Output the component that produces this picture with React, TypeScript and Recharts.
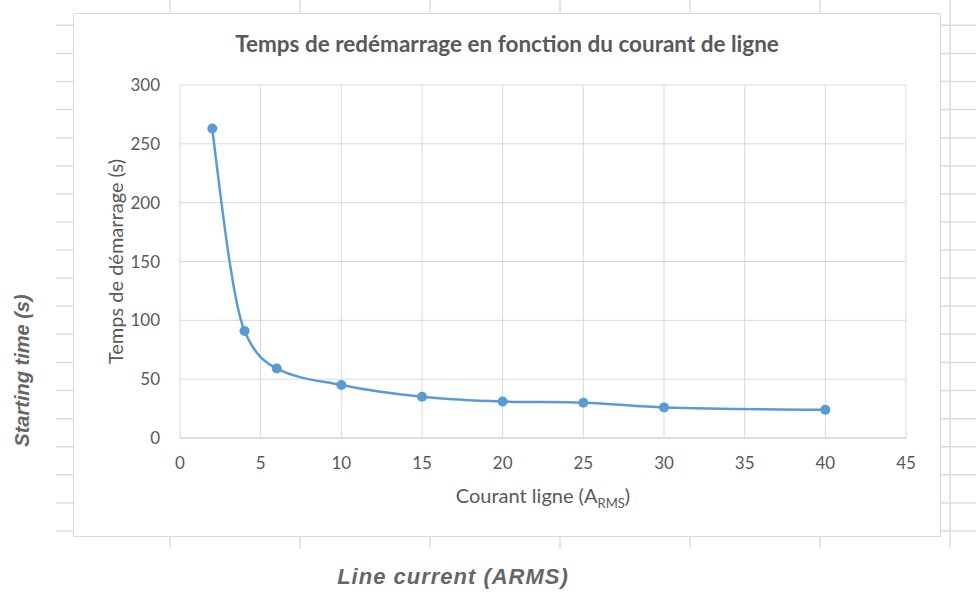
import React from "react";
import { LineChart, Line, XAxis, YAxis, CartesianGrid } from "recharts";

// line current (A RMS)
const currents = [2, 4, 6, 10, 15, 20, 25, 30, 40];
// restart time (s)
const restartTimes = [263, 91, 59, 45, 35, 31, 30, 26, 24];

const xTicks = [0, 5, 10, 15, 20, 25, 30, 35, 40, 45];
const yTicks = [0, 50, 100, 150, 200, 250, 300];

// grid of the chart sitting behind the pasted Excel picture
const bgXTicks = [1, 2, 3, 4, 5, 6, 7];
const bgYTicks = [0, 1, 2, 3, 4, 5, 6, 7, 8, 9, 10, 11, 12, 13, 14, 15, 16, 17, 18];

const data = currents.map((c, i) => ({ current: c, time: restartTimes[i] }));
const bgData = bgXTicks.map((t) => ({ slot: t }));

const textGray = "#595959";
const gridGray = "#d9d9d9";
const blue = "#5b9bd5";
const font = "Lato, 'Open Sans', sans-serif";

const XTitle = (props: any) => {
  const { viewBox } = props;
  const cx = viewBox.x + viewBox.width / 2;
  return (
    <text x={cx} y={viewBox.y + 65} textAnchor="middle" fill={textGray} fontSize={20} fontFamily={font}>
      Courant ligne (A
      <tspan fontSize={13} dy={5}>RMS</tspan>
      <tspan dy={-5}>)</tspan>
    </text>
  );
};

const YTitle = (props: any) => {
  const { viewBox } = props;
  const cy = viewBox.y + viewBox.height / 2;
  const x = 41;
  return (
    <text
      x={x}
      y={cy}
      transform={`rotate(-90, ${x}, ${cy})`}
      textAnchor="middle"
      dominantBaseline="central"
      fill={textGray}
      fontSize={20}
      fontFamily={font}
    >
      Temps de démarrage (s)
    </text>
  );
};

const App = () => {
  return (
    <div style={{ position: "absolute", left: 0, top: 0, width: 976, height: 592, background: "#fff", overflow: "hidden" }}>
      {/* background chart */}
      <div style={{ position: "absolute", left: 0, top: 0 }}>
        <LineChart width={976} height={549} data={bgData} margin={{ top: 0, right: 0, left: 56, bottom: 0 }}>
          <CartesianGrid stroke="#dcdcdc" strokeWidth={1.5} syncWithTicks />
          <XAxis type="number" dataKey="slot" hide allowDataOverflow domain={[0.123, 7.2]} ticks={bgXTicks} />
          <YAxis type="number" hide allowDataOverflow domain={[-0.64, 18.9]} ticks={bgYTicks} />
        </LineChart>
      </div>
      <div
        style={{
          position: "absolute",
          left: 0,
          top: 300,
          width: 44,
          height: 140,
          display: "flex",
          alignItems: "center",
          justifyContent: "center",
        }}
      >
        <div
          style={{
            transform: "rotate(-90deg)",
            whiteSpace: "nowrap",
            fontFamily: "'Liberation Sans', Arial, sans-serif",
            fontStyle: "italic",
            fontWeight: "bold",
            fontSize: 20,
            color: "#666",
          }}
        >
          Starting time (s)
        </div>
      </div>
      <div
        style={{
          position: "absolute",
          left: 253,
          top: 564,
          width: 400,
          textAlign: "center",
          fontFamily: "'Liberation Sans', Arial, sans-serif",
          fontStyle: "italic",
          fontWeight: "bold",
          fontSize: 22,
          letterSpacing: 1,
          color: "#666",
        }}
      >
        Line current (ARMS)
      </div>

      {/* Excel chart */}
      <div
        style={{
          position: "absolute",
          left: 73,
          top: 13,
          width: 868,
          height: 524,
          boxSizing: "border-box",
          border: `1px solid ${gridGray}`,
          background: "#fff",
        }}
      >
        <div
          style={{
            position: "absolute",
            left: 0,
            top: 17,
            width: 866,
            textAlign: "center",
            fontFamily: font,
            fontWeight: "bold",
            fontSize: 22.5,
            lineHeight: "26px",
            color: textGray,
          }}
        >
          Temps de redémarrage en fonction du courant de ligne
        </div>
        <LineChart width={866} height={522} data={data} margin={{ top: 71, right: 34, left: 0, bottom: 0 }}>
          <CartesianGrid stroke={gridGray} strokeWidth={1} />
          <XAxis
            type="number"
            dataKey="current"
            domain={[0, 45]}
            ticks={xTicks}
            height={98}
            tickLine={false}
            axisLine={{ stroke: gridGray, strokeWidth: 1.5 }}
            tickMargin={13}
            tick={{ fill: textGray, fontSize: 17, fontFamily: font }}
            label={{ content: XTitle }}
          />
          <YAxis
            type="number"
            domain={[0, 300]}
            ticks={yTicks}
            width={106}
            tickLine={false}
            axisLine={false}
            tickMargin={14}
            tick={{ fill: textGray, fontSize: 17, fontFamily: font }}
            label={{ content: YTitle }}
          />
          <Line
            type="monotone"
            dataKey="time"
            stroke={blue}
            strokeWidth={2.5}
            dot={{ r: 5, fill: blue, stroke: blue, strokeWidth: 0 }}
            activeDot={false}
            isAnimationActive={false}
          />
        </LineChart>
      </div>
    </div>
  );
};

export default App;
